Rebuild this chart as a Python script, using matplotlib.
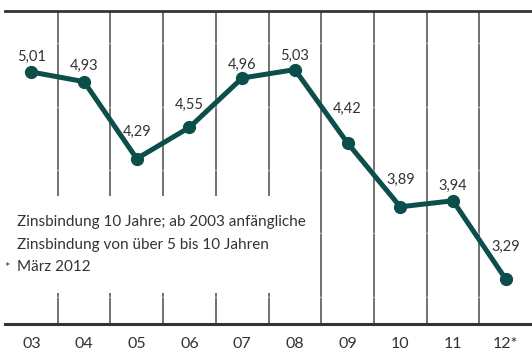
import matplotlib
matplotlib.use("Agg")
import matplotlib.pyplot as plt
from matplotlib.patches import Rectangle

plt.rcParams['font.family'] = ['Lato', 'DejaVu Sans']

years = ["03", "04", "05", "06", "07", "08", "09", "10", "11", "12*"]
rates = [5.01, 4.93, 4.29, 4.55, 4.96, 5.03, 4.42, 3.89, 3.94, 3.29]
value_labels = ["5,01", "4,93", "4,29", "4,55", "4,96", "5,03", "4,42", "3,89", "3,94", "3,29"]
note_lines = ["Zinsbindung 10 Jahre; ab 2003 anfängliche",
              "Zinsbindung von über 5 bis 10 Jahren"]
footnote = "März 2012"

# label lift above each point, in pixels
label_lift = [15, 16, 27, 22, 13, 14, 34, 27, 15, 32]

W, H, DPI = 532, 352, 100
fig = plt.figure(figsize=(W / DPI, H / DPI), dpi=DPI)
ax = fig.add_axes([5 / W, 1 - 324 / H, 1 - 5 / W, (324 - 11) / H])

line_col = "#0b4e4a"
text_col = "#333333"
x = list(range(len(years)))

ax.set_xlim(-0.5, len(years) - 0.5)
ax.set_ylim(2.916, 5.517)

# column separators
for i in range(len(years) - 1):
    ax.axvline(i + 0.5, color="#4a4a4a", lw=1.1, zorder=1)

# faint horizontal guides
for g in [5.251, 4.719, 4.195, 3.672, 3.140]:
    ax.axhline(g, color="white", lw=1.0, alpha=0.45, zorder=1.5)

# white panel behind the note text
ax.add_patch(Rectangle((0, 0.099), 0.56, 0.31, transform=ax.transAxes,
                       facecolor="white", edgecolor="none", zorder=2))

ax.plot(x, rates, color=line_col, lw=3.6, marker="o", markersize=8.5,
        solid_joinstyle="round", zorder=3)

for xi, yi, lab, lift in zip(x, rates, value_labels, label_lift):
    ax.annotate(lab, (xi, yi), xytext=(0, lift), textcoords="offset pixels",
                ha="center", va="center", fontsize=10.5, color=text_col, zorder=4)

for side in ["left", "right"]:
    ax.spines[side].set_visible(False)
ax.spines["top"].set_color("#333333")
ax.spines["top"].set_linewidth(2.0)
ax.spines["bottom"].set_color("#333333")
ax.spines["bottom"].set_linewidth(2.2)

ax.set_yticks([])
ax.set_xticks(x)
ax.set_xticklabels(years)
ax.tick_params(axis="x", length=0, pad=9, labelsize=11.5, labelcolor=text_col)

fig.text(17 / W, 1 - 222 / H, note_lines[0], fontsize=11, color=text_col, va="center", ha="left")
fig.text(17 / W, 1 - 245 / H, note_lines[1], fontsize=11, color=text_col, va="center", ha="left")
fig.text(17 / W, 1 - 267 / H, footnote, fontsize=11, color=text_col, va="center", ha="left")
fig.text(4 / W, 1 - 268 / H, "*", fontsize=9, color=text_col, va="center", ha="left")

fig.savefig("out.png", dpi=DPI)
